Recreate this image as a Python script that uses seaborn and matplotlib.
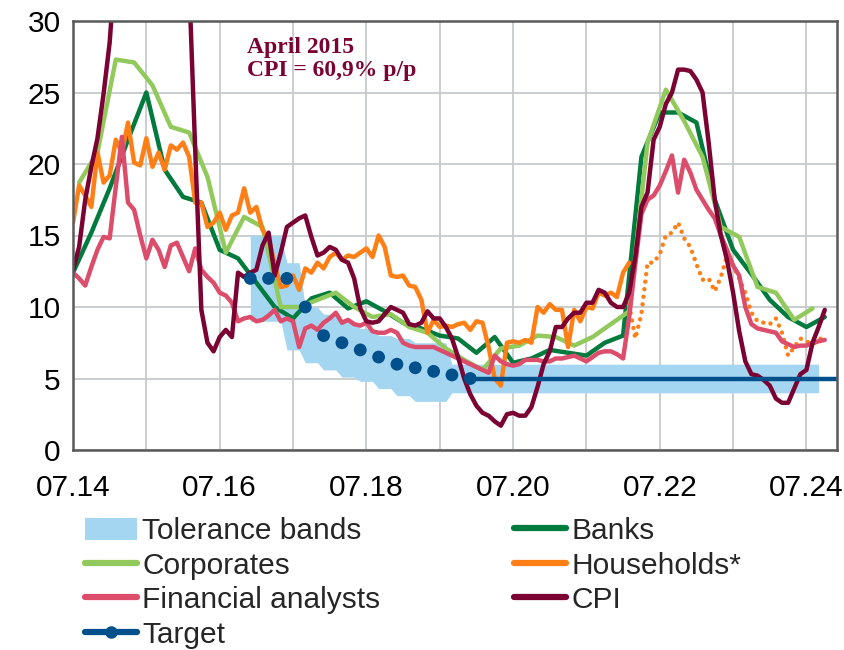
import matplotlib
matplotlib.use("Agg")
import matplotlib.pyplot as plt
from matplotlib import font_manager
from matplotlib.lines import Line2D
from matplotlib.patches import Patch
import numpy as np
import pandas as pd
import seaborn as sns

# Inflation expectations vs CPI, % y/y

# quarterly surveys
banks_start = "2014-07-01"
banks = [12.4, 15.2, 18.3, 21.7, 25.0, 19.6, 17.7, 17.3, 14.0, 13.4,
         11.7, 10.0, 9.2, 10.6, 11.0, 9.9, 10.4, 9.7, 8.9, 8.5,
         8.0, 7.8, 6.8, 7.9, 6.1, 6.4, 7.0, 6.8, 6.6, 7.5,
         8.0, 20.5, 23.6, 23.6, 22.9, 17.5, 14.0, 12.3, 10.5, 9.3,
         8.6, 9.3]

corporates_start = "2014-08-01"
corporates = [18.7, 20.8, 27.3, 27.1, 25.5, 22.6, 22.2, 19.1, 13.8, 16.3,
              15.6, 10.0, 10.0, 10.5, 11.0, 10.0, 9.3, 9.5, 8.6, 8.2,
              7.1, 6.3, 5.6, 7.1, 7.3, 8.0, 7.9, 7.3, 7.9, 8.8,
              9.7, 21.5, 25.2, 23.0, 20.5, 15.6, 14.9, 11.4, 11.0, 9.1,
              9.9]

# monthly series
households_start = "2014-07-01"
households = [15.9, 18.5, 17.8, 17.0, 20.8, 18.7, 19.2, 21.7, 20.8, 22.9, 20.1, 19.9,
              21.8, 19.8, 20.8, 19.6, 21.3, 21.0, 21.5, 20.5, 17.3, 17.3, 15.6, 15.9,
              16.6, 15.4, 16.4, 16.6, 18.3, 16.6, 17.0, 15.4, 14.8, 13.0, 11.4, 11.5,
              12.2, 11.2, 12.7, 12.4, 13.1, 12.7, 13.5, 13.8, 13.3, 13.6, 13.5, 13.8,
              14.1, 13.5, 15.0, 14.2, 12.2, 12.1, 12.2, 11.5, 11.4, 10.5, 8.2, 9.1,
              8.6, 8.7, 8.6, 8.8, 8.9, 8.4, 9.0, 8.9, 7.2, 5.0, 4.5, 7.5,
              7.6, 7.5, 7.7, 7.5, 10.0, 9.6, 10.2, 9.8, 9.8, 7.2, 9.8, 9.0,
              10.0, 9.9, 11.0, 10.8, 11.0, 10.7, 12.4, 13.1]

households_new_start = "2022-02-01"
households_new = [10.1, 7.8, 9.5, 13.1, 13.1, 13.7, 15.0, 15.2, 15.9, 14.8, 14.2, 13.0,
                  11.9, 12.0, 11.1, 12.1, 13.6, 12.9, 12.0, 11.0, 9.6, 9.0, 8.9, 8.8,
                  9.2, 8.2, 6.6, 7.2, 7.8, 7.6, 7.4, 7.6, 8.2]

analysts_start = "2014-07-01"
analysts = [12.4, 12.0, 11.5, 12.8, 14.0, 14.9, 14.8, 18.4, 21.9, 17.3, 16.8, 15.0,
            13.4, 14.7, 14.0, 12.8, 14.3, 14.5, 13.5, 12.5, 14.1, 12.6, 12.1, 11.7,
            11.0, 10.8, 10.3, 9.0, 9.2, 9.3, 9.0, 9.1, 9.4, 9.8, 9.0, 9.2,
            9.0, 7.2, 8.5, 8.7, 8.4, 8.9, 9.2, 9.6, 8.9, 9.1, 8.8, 8.7,
            8.9, 8.3, 8.2, 8.2, 8.4, 8.2, 7.5, 7.3, 7.2, 7.2, 7.2, 7.2,
            7.0, 6.8, 6.6, 6.4, 6.2, 6.0, 5.8, 5.6, 5.4, 6.6, 6.2, 6.0,
            5.9, 6.0, 6.3, 6.3, 6.3, 6.2, 6.2, 6.4, 6.4, 6.5, 6.6, 6.4,
            6.2, 6.5, 6.8, 6.9, 6.9, 6.7, 6.4, 9.3, 13.0, 16.5, 17.5, 17.8,
            18.5, 19.5, 20.6, 18.0, 20.3, 19.4, 18.2, 17.5, 16.8, 16.2, 15.0, 14.0,
            12.9, 12.2, 10.0, 8.8, 8.5, 8.4, 8.3, 8.2, 7.6, 7.4, 7.2, 7.3,
            7.3, 7.5, 7.6, 7.7]

cpi_start = "2014-07-01"
cpi = [12.6, 14.2, 17.5, 19.8, 21.8, 24.9, 28.5, 34.5, 45.8, 60.9, 58.4, 57.5,
       55.3, 52.8, 51.9, 46.4, 45.8, 43.3, 40.3, 32.7, 20.9, 9.8, 7.5, 6.9,
       7.9, 8.4, 7.9, 12.4, 12.1, 12.4, 12.6, 14.3, 15.2, 12.2, 13.8, 15.6,
       15.9, 16.2, 16.4, 14.9, 13.6, 13.8, 14.2, 14.0, 13.3, 13.1, 12.0, 9.9,
       9.0, 8.9, 9.0, 9.5, 10.0, 9.8, 9.6, 8.8, 8.7, 8.9, 9.7, 9.2,
       9.2, 8.6, 7.8, 6.5, 5.0, 3.9, 3.1, 2.6, 2.4, 2.0, 1.7, 2.5,
       2.6, 2.4, 2.4, 3.0, 4.4, 6.0, 6.9, 8.6, 8.6, 9.2, 9.6, 9.6,
       10.3, 10.3, 11.2, 11.0, 10.3, 10.0, 10.0, 11.0, 13.5, 17.0, 18.0, 21.7,
       22.6, 24.2, 25.0, 26.6, 26.6, 26.5, 25.9, 25.0, 21.5, 17.5, 15.0, 13.3,
       11.0, 8.3, 6.2, 5.3, 5.2, 4.9, 4.5, 3.6, 3.3, 3.3, 4.3, 5.3,
       5.6, 7.5, 8.6, 9.8]

# inflation target (quarterly path) and the flat 5% afterwards
target_start = "2016-12-01"
target = [12, 12, 12, 10, 8, 7.5, 7, 6.5, 6, 5.75, 5.5, 5.25, 5]
target_flat_dates = ["2019-12-01", "2024-12-01"]
target_flat = [5, 5]

# tolerance band outline
band_dates = ["2016-12-01", "2017-05-01", "2017-06-01", "2017-08-01", "2017-09-01",
              "2017-11-01", "2017-12-01", "2018-02-01", "2018-03-01", "2018-05-01",
              "2018-06-01", "2018-08-01", "2018-09-01", "2018-11-01", "2018-12-01",
              "2019-02-01", "2019-03-01", "2019-08-01", "2019-09-01", "2024-09-01"]
band_low = [9.0, 9.0, 7.0, 7.0, 6.1, 6.1, 5.6, 5.6, 5.1, 5.1,
            4.8, 4.8, 4.3, 4.3, 3.8, 3.8, 3.4, 3.4, 4.0, 4.0]
band_high = [15.0, 15.0, 13.1, 13.1, 10.0, 10.0, 9.5, 9.5, 9.0, 9.0,
             8.5, 8.5, 8.0, 8.0, 7.8, 7.8, 7.5, 7.5, 6.0, 6.0]

x_ticks = [2014.5 + i for i in range(11)]
x_tick_labels = ["07.14", "", "07.16", "", "07.18", "", "07.20", "", "07.22", "", "07.24"]

C_BAND = "#A5D6F1"
C_BANKS = "#007A3D"
C_CORP = "#92C95C"
C_HH = "#FF7F17"
C_FIN = "#DC4C6B"
C_CPI = "#7A0333"
C_TARGET = "#00508C"
C_GRID = "#C6CACE"
C_AXIS = "#595959"


def to_years(dates):
    d = pd.DatetimeIndex(dates)
    return np.asarray(d.year + (d.month - 1) / 12.0)


def monthly(start, values, step=1):
    return to_years(pd.date_range(start, periods=len(values), freq=f"{step}MS"))


sns.set_theme(style="white")
installed = {f.name for f in font_manager.fontManager.ttflist}
if "Liberation Sans Narrow" in installed:
    sans, fs = "Liberation Sans Narrow", 25
else:
    sans, fs = "Liberation Sans", 21.5
plt.rcParams["font.family"] = [sans, "DejaVu Sans"]

fig = plt.figure(figsize=(8.44, 6.5), dpi=100)
ax = fig.add_axes([73 / 844, 1 - 450 / 650, 764 / 844, 429 / 650])

lw = 3.2
ax.fill_between(to_years(band_dates), band_low, band_high, color=C_BAND, linewidth=0, zorder=1)

sns.lineplot(x=monthly(banks_start, banks, 3), y=banks, ax=ax, color=C_BANKS, linewidth=lw, zorder=3)
sns.lineplot(x=monthly(corporates_start, corporates, 3), y=corporates, ax=ax, color=C_CORP, linewidth=lw, zorder=3)
sns.lineplot(x=monthly(households_start, households), y=households, ax=ax, color=C_HH, linewidth=lw, zorder=4)
sns.lineplot(x=monthly(households_new_start, households_new), y=households_new, ax=ax, color=C_HH,
             linewidth=lw, linestyle=(0, (0.01, 1.7)), dash_capstyle="round", zorder=4)
sns.lineplot(x=monthly(analysts_start, analysts), y=analysts, ax=ax, color=C_FIN, linewidth=lw, zorder=5)
sns.lineplot(x=monthly(cpi_start, cpi), y=cpi, ax=ax, color=C_CPI, linewidth=lw, zorder=6)
sns.lineplot(x=to_years(target_flat_dates), y=target_flat, ax=ax, color=C_TARGET, linewidth=lw, zorder=7)
sns.scatterplot(x=monthly(target_start, target, 3), y=target, ax=ax, color=C_TARGET, s=85,
                edgecolor="none", zorder=8)

ax.set_xlim(2014.5, 2014.5 + 125 / 12)
ax.set_ylim(0, 30)
ax.set_xticks(x_ticks)
ax.set_xticklabels(x_tick_labels)
ax.set_yticks(range(0, 31, 5))
ax.set_xlabel("")
ax.set_ylabel("")
ax.grid(True, color=C_GRID, linewidth=1.3)
ax.set_axisbelow(True)
for sp in ax.spines.values():
    sp.set_color(C_AXIS)
    sp.set_linewidth(1.8)
    sp.set_zorder(10)
ax.tick_params(direction="in", length=7, width=1.8, color=C_AXIS, labelcolor="black",
               labelsize=fs)
ax.tick_params(axis="x", pad=17)
ax.tick_params(axis="y", pad=9)

ax.text(0.228, 0.963, "April 2015\nCPI = 60,9% p/p", transform=ax.transAxes,
        ha="left", va="top", fontsize=17, fontweight="bold", color=C_CPI,
        family=["Liberation Serif", "DejaVu Serif"], linespacing=1.15, zorder=11)

h = lambda c: Line2D([], [], color=c, linewidth=4.5, solid_capstyle="round")
left_handles = [Patch(facecolor=C_BAND, edgecolor="none"), h(C_CORP), h(C_FIN),
                Line2D([], [], color=C_TARGET, linewidth=4.5, marker="o", markersize=8)]
left_labels = ["Tolerance bands", "Corporates", "Financial analysts", "Target"]
right_handles = [h(C_BANKS), h(C_HH), h(C_CPI)]
right_labels = ["Banks", "Households*", "CPI"]

common = dict(loc="upper left", frameon=False, fontsize=fs, borderpad=0, borderaxespad=0,
              labelspacing=0.22, handlelength=1.75, handletextpad=0.17, handleheight=0.75)
leg1 = fig.legend(left_handles, left_labels, bbox_to_anchor=(85 / 844, 1 - 517 / 650), **common)
leg2 = fig.legend(right_handles, right_labels, bbox_to_anchor=(514 / 844, 1 - 517 / 650), **common)

fig.savefig("out.png", dpi=100)
